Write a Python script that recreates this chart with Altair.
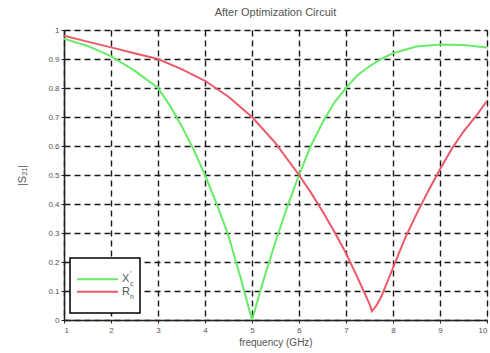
import altair as alt
import pandas as pd

# |S21| versus frequency for the two optimised elements
freq_xc = [1.0, 1.5, 2.0, 2.5, 3.0, 3.25, 3.5, 3.75, 4.0, 4.25, 4.5, 4.75, 5.0,
           5.25, 5.5, 5.75, 6.0, 6.25, 6.5, 6.75, 7.0, 7.25, 7.5, 7.75, 8.0,
           8.5, 9.0, 9.5, 10.0]
s21_xc = [0.97, 0.945, 0.91, 0.86, 0.80, 0.74, 0.67, 0.59, 0.50, 0.40, 0.29, 0.15, 0.0,
          0.14, 0.27, 0.39, 0.50, 0.60, 0.68, 0.75, 0.80, 0.845, 0.875, 0.90, 0.92,
          0.943, 0.95, 0.948, 0.94]

freq_rn = [1.0, 1.5, 2.0, 2.5, 3.0, 3.5, 4.0, 4.5, 5.0, 5.5, 6.0, 6.25, 6.5, 6.75,
           7.0, 7.25, 7.5, 7.55, 7.65, 7.75, 8.0, 8.25, 8.5, 8.75, 9.0, 9.25, 9.5, 9.75, 10.0]
s21_rn = [0.98, 0.96, 0.94, 0.92, 0.90, 0.865, 0.825, 0.77, 0.70, 0.61, 0.50, 0.44, 0.375, 0.305,
          0.23, 0.145, 0.055, 0.03, 0.05, 0.08, 0.18, 0.28, 0.365, 0.445, 0.52, 0.59, 0.65, 0.70,
          0.755]

series_names = ["Xc", "Rn"]
series_colors = ["#66ec66", "#ec5a6a"]

x_ticks = [1, 2, 3, 4, 5, 6, 7, 8, 9, 10]
y_ticks = [0, 0.1, 0.2, 0.3, 0.4, 0.5, 0.6, 0.7, 0.8, 0.9, 1.0]

df = pd.concat([
    pd.DataFrame({"f": freq_xc, "s21": s21_xc, "series": series_names[0]}),
    pd.DataFrame({"f": freq_rn, "s21": s21_rn, "series": series_names[1]}),
])

W, H = 423, 290
FONT = "Liberation Sans"
TXT = "#555555"

x_enc = alt.X(
    "f:Q",
    scale=alt.Scale(domain=[1, 10], nice=False),
    axis=alt.Axis(
        values=x_ticks, title="frequency (GHz)", titleFontSize=10, titleFontWeight="normal",
        titleColor=TXT, titlePadding=3, labelFontSize=8, labelColor=TXT, labelFont=FONT,
        titleFont=FONT, grid=True, gridColor="black", gridDash=[6, 4], gridWidth=1.4,
        gridOpacity=0.9, domainColor="#222222", domainWidth=1.5, tickColor="#222222",
        tickSize=3, labelPadding=3,
    ),
)
y_enc = alt.Y(
    "s21:Q",
    scale=alt.Scale(domain=[0, 1], nice=False),
    axis=alt.Axis(
        values=y_ticks, format=".1~f", title="|S₂₁|", titleFontSize=11,
        titleFontWeight="normal", titleColor=TXT, titleFont=FONT, titlePadding=20,
        labelFontSize=8, labelColor=TXT, labelFont=FONT, grid=True, gridColor="black",
        gridDash=[6, 4], gridWidth=1.4, gridOpacity=0.9, domainColor="#222222",
        domainWidth=1.5, tickColor="#222222", tickSize=3, labelPadding=2,
    ),
)

lines = alt.Chart(df).mark_line(strokeWidth=2, clip=True).encode(
    x=x_enc,
    y=y_enc,
    color=alt.Color("series:N", scale=alt.Scale(domain=series_names, range=series_colors),
                    legend=None),
    detail="series:N",
)

# boxed legend in the lower-left corner of the plot
legend_box = alt.Chart(pd.DataFrame({"a": [0]})).mark_rect(
    fill="white", stroke="black", strokeWidth=1.5
).encode(x=alt.value(6), x2=alt.value(76), y=alt.value(228), y2=alt.value(283))

leg_df = pd.DataFrame({"series": series_names, "row": [0, 1]})
leg_lines = alt.Chart(leg_df).mark_rule(strokeWidth=2).encode(
    x=alt.value(13), x2=alt.value(54),
    y=alt.Y("row:O", scale=alt.Scale(domain=[0, 1], range=[243, 268]), axis=None),
    color=alt.Color("series:N", scale=alt.Scale(domain=series_names, range=series_colors),
                    legend=None),
)
leg_main = alt.Chart(pd.DataFrame({"t": ["X", "R"], "row": [0, 1]})).mark_text(
    align="left", baseline="middle", fontSize=11, font=FONT, color=TXT
).encode(
    x=alt.value(58),
    y=alt.Y("row:O", scale=alt.Scale(domain=[0, 1], range=[243, 268]), axis=None),
    text="t:N",
)
leg_sub = alt.Chart(pd.DataFrame({"t": ["c", "n"], "row": [0, 1]})).mark_text(
    align="left", baseline="middle", fontSize=7, font=FONT, color=TXT
).encode(
    x=alt.value(66),
    y=alt.Y("row:O", scale=alt.Scale(domain=[0, 1], range=[248, 273]), axis=None),
    text="t:N",
)
leg_sup = alt.Chart(pd.DataFrame({"t": ["′"], "row": [0]})).mark_text(
    align="left", baseline="middle", fontSize=8, font=FONT, color=TXT
).encode(
    x=alt.value(66),
    y=alt.Y("row:O", scale=alt.Scale(domain=[0, 1], range=[238, 263]), axis=None),
    text="t:N",
)

chart = alt.layer(lines, legend_box, leg_lines, leg_main, leg_sub, leg_sup).resolve_scale(
    y="independent"
).properties(
    width=W, height=H,
    title=alt.TitleParams("After Optimization Circuit", fontSize=11, fontWeight="normal",
                          color=TXT, font=FONT, offset=8),
    autosize=alt.AutoSizeParams(type="none"),
    padding={"left": 64, "top": 30, "right": 3, "bottom": 33},
).configure_view(stroke="#222222", strokeWidth=1.5).configure(background="white")

chart.save("out.html", embed_options={"renderer": "svg", "actions": False})
